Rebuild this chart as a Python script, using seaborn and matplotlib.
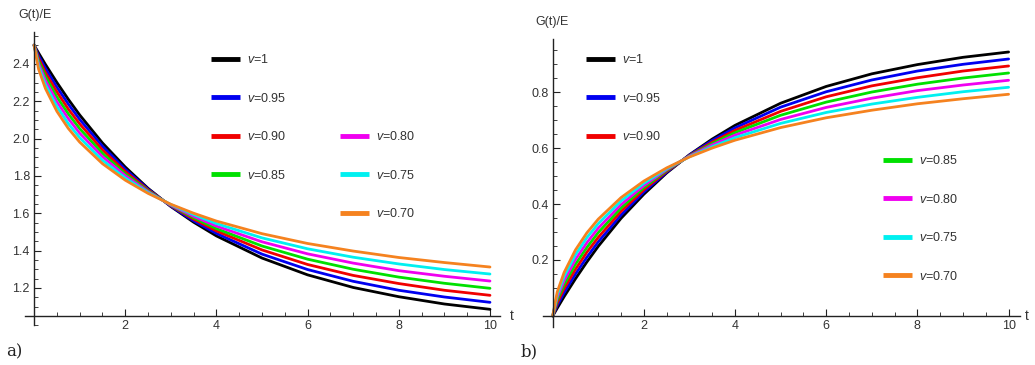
import numpy as np
import pandas as pd
import seaborn as sns
import matplotlib.pyplot as plt
from matplotlib.lines import Line2D
from matplotlib.legend import Legend
from matplotlib.ticker import MultipleLocator

# time grid (same for every curve)
t = [0, 0.1, 0.25, 0.5, 0.75, 1, 1.5, 2, 2.5, 3, 3.5, 4, 5, 6, 7, 8, 9, 10]

v_labels = ['1', '0.95', '0.90', '0.85', '0.80', '0.75', '0.70']
colors = ['#000000', '#0000f0', '#f00000', '#00e000', '#f000f0', '#00f0f0', '#f5821f']

# panel a) relaxation G(t)/E
relax_100 = [2.5, 2.458, 2.3965, 2.3005, 2.2105, 2.1265, 1.9765, 1.8475, 1.7335, 1.636, 1.552, 1.4785, 1.36, 1.27, 1.2025, 1.153, 1.114, 1.0855]
relax_095 = [2.5, 2.443, 2.3755, 2.275, 2.185, 2.1025, 1.9585, 1.8355, 1.729, 1.6375, 1.5595, 1.492, 1.381, 1.2985, 1.2355, 1.1875, 1.1515, 1.123]
relax_090 = [2.5, 2.4295, 2.353, 2.2495, 2.158, 2.0785, 1.939, 1.8235, 1.7245, 1.6405, 1.5685, 1.5055, 1.4035, 1.3255, 1.267, 1.2235, 1.1875, 1.1605]
relax_085 = [2.5, 2.4145, 2.332, 2.2225, 2.1325, 2.053, 1.921, 1.8115, 1.72, 1.642, 1.576, 1.5175, 1.4245, 1.354, 1.3, 1.258, 1.225, 1.198]
relax_080 = [2.5, 2.3995, 2.311, 2.197, 2.107, 2.029, 1.903, 1.801, 1.7155, 1.6435, 1.5835, 1.531, 1.447, 1.3825, 1.333, 1.2925, 1.2625, 1.237]
relax_075 = [2.5, 2.386, 2.2885, 2.1715, 2.08, 2.005, 1.8835, 1.789, 1.711, 1.6465, 1.5925, 1.5445, 1.468, 1.4095, 1.3645, 1.3285, 1.2985, 1.2745]
relax_070 = [2.5, 2.371, 2.2675, 2.146, 2.0545, 1.981, 1.8655, 1.777, 1.7065, 1.648, 1.6, 1.558, 1.4905, 1.438, 1.3975, 1.363, 1.336, 1.312]

# panel b) G(t)/E rising from 0
creep_100 = [0, 0.028, 0.069, 0.133, 0.193, 0.249, 0.349, 0.435, 0.511, 0.576, 0.632, 0.681, 0.760, 0.820, 0.865, 0.898, 0.924, 0.943]
creep_095 = [0, 0.038, 0.083, 0.150, 0.210, 0.265, 0.361, 0.443, 0.514, 0.575, 0.627, 0.672, 0.746, 0.801, 0.843, 0.875, 0.899, 0.918]
creep_090 = [0, 0.047, 0.098, 0.167, 0.228, 0.281, 0.374, 0.451, 0.517, 0.573, 0.621, 0.663, 0.731, 0.783, 0.822, 0.851, 0.875, 0.893]
creep_085 = [0, 0.057, 0.112, 0.185, 0.245, 0.298, 0.386, 0.459, 0.520, 0.572, 0.616, 0.655, 0.717, 0.764, 0.800, 0.828, 0.850, 0.868]
creep_080 = [0, 0.067, 0.126, 0.202, 0.262, 0.314, 0.398, 0.466, 0.523, 0.571, 0.611, 0.646, 0.702, 0.745, 0.778, 0.805, 0.825, 0.842]
creep_075 = [0, 0.076, 0.141, 0.219, 0.280, 0.330, 0.411, 0.474, 0.526, 0.569, 0.605, 0.637, 0.688, 0.727, 0.757, 0.781, 0.801, 0.817]
creep_070 = [0, 0.086, 0.155, 0.236, 0.297, 0.346, 0.423, 0.482, 0.529, 0.568, 0.600, 0.628, 0.673, 0.708, 0.735, 0.758, 0.776, 0.792]

relax = [relax_100, relax_095, relax_090, relax_085, relax_080, relax_075, relax_070]
creep = [creep_100, creep_095, creep_090, creep_085, creep_080, creep_075, creep_070]

sns.set_style('white')
plt.rcParams['font.family'] = ['Liberation Sans', 'DejaVu Sans']
plt.rcParams['mathtext.fontset'] = 'custom'
plt.rcParams['mathtext.it'] = 'Liberation Sans:italic'
plt.rcParams['mathtext.rm'] = 'Liberation Sans'

axis_col = '#222222'
text_col = '#333333'


def long_df(curves):
    rows = []
    for lab, vals in zip(v_labels, curves):
        for ti, gi in zip(t, vals):
            rows.append((ti, gi, lab))
    return pd.DataFrame(rows, columns=['t', 'g', 'v'])


def style_axis(ax, xlim, ylim, y0, yticks):
    ax.set_xlim(*xlim)
    ax.set_ylim(*ylim)
    for s in ['top', 'right']:
        ax.spines[s].set_visible(False)
    ax.spines['left'].set_position(('data', 0))
    ax.spines['bottom'].set_position(('data', y0))
    for s in ['left', 'bottom']:
        ax.spines[s].set_color(axis_col)
        ax.spines[s].set_linewidth(1.0)
    ax.set_xticks([2, 4, 6, 8, 10])
    ax.set_yticks(yticks)
    ax.xaxis.set_minor_locator(MultipleLocator(0.5))
    ax.yaxis.set_minor_locator(MultipleLocator(0.05))
    ax.tick_params(which='both', bottom=True, left=True, direction='in')
    ax.tick_params(which='major', length=5, width=0.8,
                   colors=axis_col, labelcolor=text_col, labelsize=9, pad=3)
    ax.tick_params(which='minor', length=3, width=0.6, colors=axis_col)
    ax.set_xlabel('')
    ax.set_ylabel('')


def legend_at(ax, idx, xy, fig):
    handles = [Line2D([], [], color=colors[i], lw=3.5, solid_capstyle='butt') for i in idx]
    labels = [r'$v$=' + v_labels[i] for i in idx]
    leg = Legend(ax, handles, labels, loc='upper left', bbox_to_anchor=xy,
                 bbox_transform=fig.transFigure, frameon=False, fontsize=9,
                 handlelength=2.3, handletextpad=0.55, labelspacing=2.05,
                 borderpad=0, borderaxespad=0, labelcolor=text_col)
    ax.add_artist(leg)


fig = plt.figure(figsize=(10.35, 3.65), dpi=100)
ax1 = fig.add_axes([0.0241, 0.1088, 0.4590, 0.8033])
ax2 = fig.add_axes([0.5243, 0.1036, 0.4612, 0.7900])

sns.lineplot(data=long_df(relax), x='t', y='g', hue='v', hue_order=v_labels,
             palette=colors, estimator=None, linewidth=2, legend=False, ax=ax1)
sns.lineplot(data=long_df(creep), x='t', y='g', hue='v', hue_order=v_labels,
             palette=colors, estimator=None, linewidth=2, legend=False, ax=ax2)

style_axis(ax1, (-0.2, 10.22), (1.0, 2.57), 1.05, [1.2, 1.4, 1.6, 1.8, 2.0, 2.2, 2.4])
style_axis(ax2, (-0.22, 10.25), (-0.04, 0.99), 0, [0.2, 0.4, 0.6, 0.8])

legend_at(ax1, [0, 1, 2, 3], (0.2039, 0.8548), fig)
legend_at(ax1, [4, 5, 6], (0.3285, 0.6438), fig)
legend_at(ax2, [0, 1, 2], (0.5662, 0.8548), fig)
legend_at(ax2, [3, 4, 5, 6], (0.8531, 0.5781), fig)

# axis labels in Mathematica style
fig.text(35 / 1035, 1 - 15 / 365, 'G(t)/E', ha='center', va='center', fontsize=9, color=text_col)
fig.text(552 / 1035, 1 - 22 / 365, 'G(t)/E', ha='center', va='center', fontsize=9, color=text_col)
fig.text(512 / 1035, 1 - 316 / 365, 't', ha='center', va='center', fontsize=10, color=text_col)
fig.text(1027 / 1035, 1 - 316 / 365, 't', ha='center', va='center', fontsize=10, color=text_col)

fig.text(14 / 1035, 1 - 352 / 365, 'a)', ha='center', va='center', fontsize=12,
         family=['DejaVu Serif'], color='#222222')
fig.text(529 / 1035, 1 - 352 / 365, 'b)', ha='center', va='center', fontsize=12,
         family=['DejaVu Serif'], color='#222222')

fig.savefig('out.png', dpi=100)
